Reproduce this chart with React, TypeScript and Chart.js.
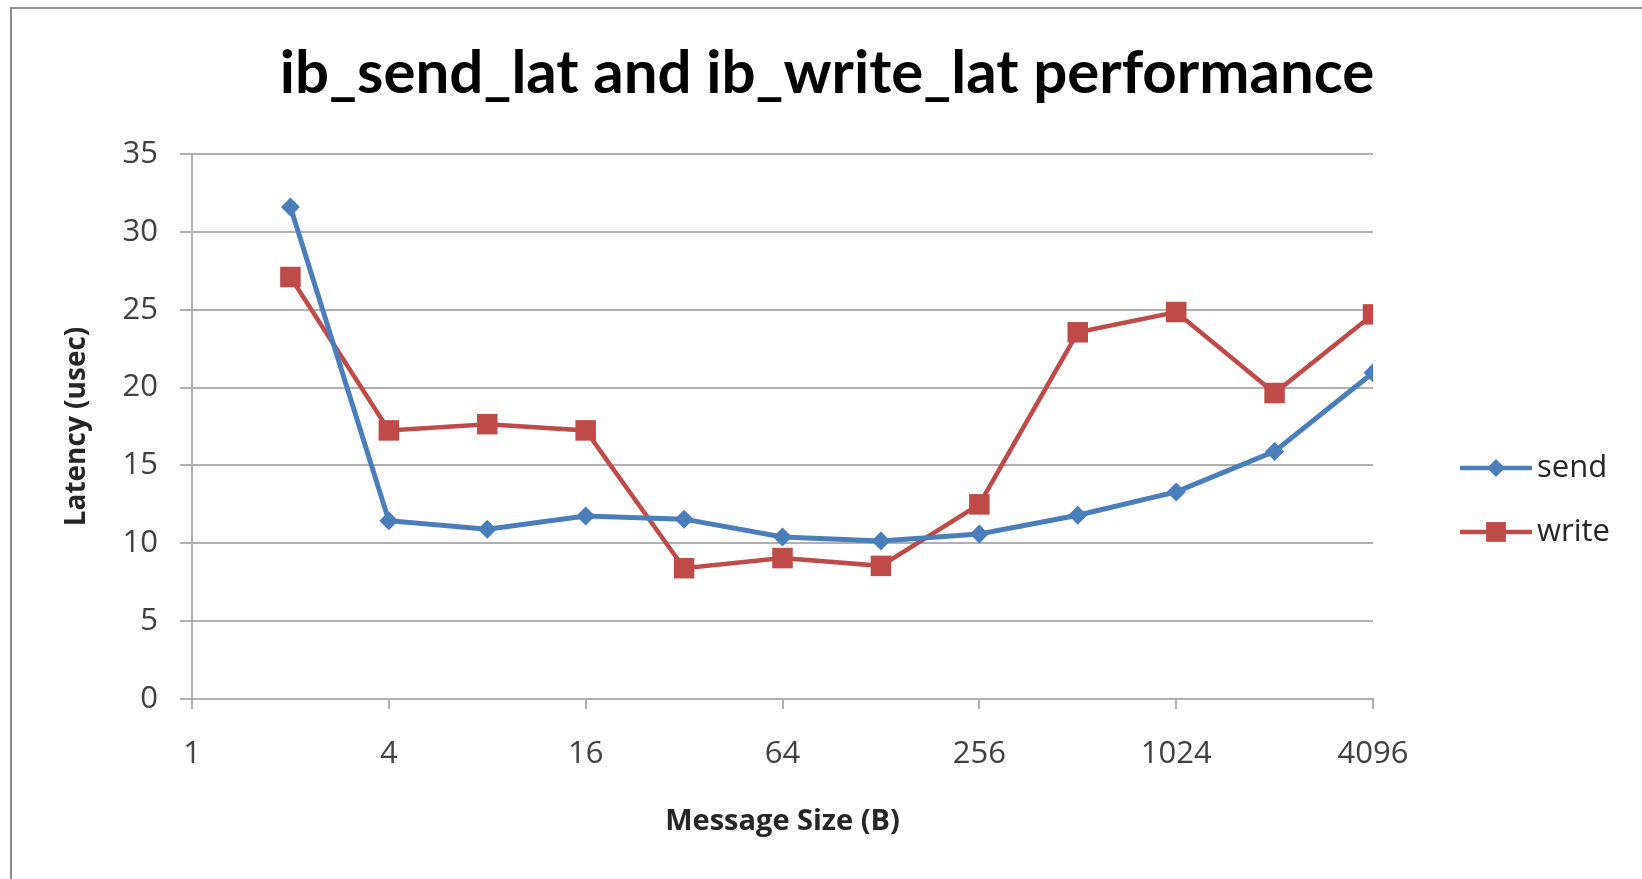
import React, { useEffect, useRef } from "react";
import { Chart, registerables } from "chart.js";

Chart.register(...registerables);

const messageSizes = [2, 4, 8, 16, 32, 64, 128, 256, 512, 1024, 2048, 4096];
const sendLatency = [31.6, 11.45, 10.9, 11.75, 11.55, 10.4, 10.15, 10.6, 11.8, 13.3, 15.9, 20.95];
const writeLatency = [27.1, 17.25, 17.65, 17.25, 8.4, 9.05, 8.55, 12.5, 23.55, 24.85, 19.65, 24.7];
const seriesNames = ["send", "write"];
const seriesColors = ["#4A7EBB", "#BE4B48"];
const titleText = "ib_send_lat and ib_write_lat performance";
const xTitle = "Message Size (B)";
const yTitle = "Latency (usec)";

const W = 1642;
const H = 879;

function drawMarker(ctx: CanvasRenderingContext2D, style: string, x: number, y: number, r: number) {
  ctx.beginPath();
  if (style === "rectRot") {
    ctx.moveTo(x, y - r);
    ctx.lineTo(x + r, y);
    ctx.lineTo(x, y + r);
    ctx.lineTo(x - r, y);
  } else {
    const s = Math.SQRT1_2 * r;
    ctx.rect(x - s, y - s, 2 * s, 2 * s);
  }
  ctx.closePath();
  ctx.fill();
}

const decorPlugin = {
  id: "decor",
  beforeDraw(chart: any) {
    const ctx = chart.ctx;
    ctx.save();
    ctx.fillStyle = "#ffffff";
    ctx.fillRect(0, 0, W, H);
    ctx.strokeStyle = "#8e8e8e";
    ctx.lineWidth = 2;
    ctx.beginPath();
    ctx.moveTo(11, H);
    ctx.lineTo(11, 8);
    ctx.lineTo(W, 8);
    ctx.stroke();
    ctx.restore();
  },
  afterDraw(chart: any) {
    const ctx = chart.ctx;
    ctx.save();
    // chart title
    ctx.fillStyle = "#000000";
    ctx.font = "bold 60px Lato";
    ctx.textAlign = "center";
    ctx.textBaseline = "middle";
    ctx.fillText(titleText, 827, 74);
    // legend
    const ys = [468, 532];
    const styles = ["rectRot", "rect"];
    const radii = [9, 14];
    seriesNames.forEach((name, i) => {
      const y = ys[i];
      ctx.strokeStyle = seriesColors[i];
      ctx.fillStyle = seriesColors[i];
      ctx.lineWidth = 4.5;
      ctx.beginPath();
      ctx.moveTo(1460, y);
      ctx.lineTo(1532, y);
      ctx.stroke();
      drawMarker(ctx, styles[i], 1496, y, radii[i]);
      ctx.fillStyle = "#262626";
      ctx.font = "31px 'Open Sans'";
      ctx.textBaseline = "middle";
      ctx.textAlign = "left";
      ctx.fillText(name, 1537, y);
    });
    ctx.restore();
  },
};

export default function App() {
  const ref = useRef<HTMLCanvasElement>(null);
  useEffect(() => {
    if (!ref.current) return;
    const toPts = (vals: number[]) => messageSizes.map((s, i) => ({ x: Math.log2(s), y: vals[i] }));
    const chart = new Chart(ref.current, {
      type: "line",
      data: {
        datasets: [
          {
            label: seriesNames[0],
            data: toPts(sendLatency),
            borderColor: seriesColors[0],
            backgroundColor: seriesColors[0],
            borderWidth: 5,
            pointStyle: "rectRot",
            pointRadius: 9.5,
            pointBorderWidth: 0,
            tension: 0,
          },
          {
            label: seriesNames[1],
            data: toPts(writeLatency),
            borderColor: seriesColors[1],
            backgroundColor: seriesColors[1],
            borderWidth: 4.5,
            pointStyle: "rect",
            pointRadius: 14.5,
            pointBorderWidth: 0,
            tension: 0,
          },
        ],
      },
      options: {
        responsive: false,
        animation: false,
        layout: { padding: { left: 0, right: 269, top: 154, bottom: 0 } },
        plugins: {
          legend: { display: false },
          tooltip: { enabled: false },
          title: { display: false },
        },
        scales: {
          x: {
            type: "linear",
            min: 0,
            max: 12,
            afterFit: (s: any) => {
              s.height = 180;
            },
            ticks: {
              stepSize: 2,
              color: "#404040",
              font: { family: "Open Sans", size: 31 },
              padding: 27,
              callback: (v: any) => String(Math.pow(2, Number(v))),
            },
            grid: {
              display: true,
              drawOnChartArea: false,
              drawTicks: true,
              tickLength: 10,
              color: "#b0b0b0",
              lineWidth: 2,
            },
            border: { display: true, color: "#b0b0b0", width: 2 },
            title: {
              display: true,
              text: xTitle,
              color: "#262626",
              font: { family: "Open Sans", weight: "bold", size: 29 },
              padding: { top: 0, bottom: 40 },
            },
          },
          y: {
            min: 0,
            max: 35,
            afterFit: (s: any) => {
              s.width = 192;
            },
            ticks: {
              stepSize: 5,
              color: "#404040",
              font: { family: "Open Sans", size: 31 },
              padding: 22,
            },
            grid: {
              color: "#b0b0b0",
              lineWidth: 2,
              drawTicks: true,
              tickLength: 12,
            },
            border: { display: true, color: "#b0b0b0", width: 2 },
            title: {
              display: true,
              text: yTitle,
              color: "#262626",
              font: { family: "Open Sans", weight: "bold", size: 28 },
              padding: { top: 60, bottom: 0 },
            },
          },
        },
      },
      plugins: [decorPlugin],
    } as any);
    return () => chart.destroy();
  }, []);
  return (
    <div style={{ position: "absolute", left: 0, top: 0, width: W, height: H, background: "#fff" }}>
      <canvas ref={ref} width={W} height={H} style={{ display: "block" }} />
    </div>
  );
}
